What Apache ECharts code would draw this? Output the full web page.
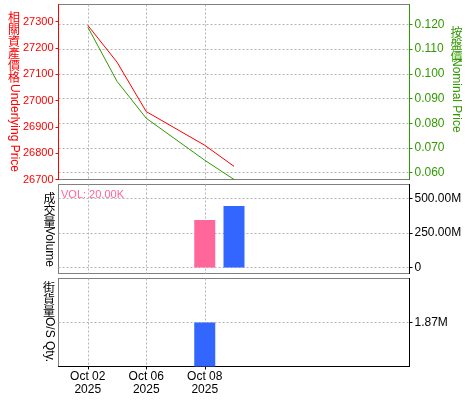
<!DOCTYPE html>
<html><head><meta charset="utf-8">
<script src="https://cdn.jsdelivr.net/npm/echarts@6/dist/echarts.min.js"></script>
<style>html,body{margin:0;padding:0;background:#fff}#c{width:475px;height:400px}</style>
</head><body><div id="c"></div>
<script>
// ---- data ----
const categories = ['', 'Oct 02\n2025', 'Oct 03\n2025', 'Oct 06\n2025', 'Oct 07\n2025', 'Oct 08\n2025', 'Oct 09\n2025', '', '', '', '', '', ''];
const labelledDays = ['Oct 02\n2025', 'Oct 06\n2025', 'Oct 08\n2025'];
const underlyingPrice = [null, 27286, 27146, 26958, null, 26830, 26750, null, null, null, null, null, null];
const nominalPrice = [null, 0.119, 0.097, 0.082, null, 0.065, 0.0572, null, null, null, null, null, null];
const volume = [null, null, null, null, null, 344e6, 446e6, null, null, null, null, null, null];
const volumeKind = [null, null, null, null, null, 'pink', 'blue', null, null, null, null, null, null];
const osQty = [null, null, null, null, null, 1.87e6, null, null, null, null, null, null, null];
const underlyingTicks = [26700, 26800, 26900, 27000, 27100, 27200, 27300];
const nominalTicks = [0.06, 0.07, 0.08, 0.09, 0.10, 0.11, 0.12];
const volumeTicks = [0, 250e6, 500e6];
const osTicks = [1.87e6];
const volText = 'VOL: 20.00K';

// ---- styles ----
const RED = '#ff0000', GREEN = '#339900', PINK = '#ff6699', BLUE = '#3366ff';
const FONT = '"Liberation Sans", Arial, sans-serif';
const CJK = '"Noto Sans CJK TC", "Noto Sans CJK SC", sans-serif';
const gridLine = { show: true, lineStyle: { color: '#b4b4b4', width: 1, type: [2, 2] } };
const showIdx = (i) => labelledDays.indexOf(categories[i]) >= 0;
const fmtM = (v) => v === 0 ? '0' : (v / 1e6).toFixed(2) + 'M';

function xAxis(gi, bottom) {
  return {
    type: 'category', gridIndex: gi, data: categories, boundaryGap: false,
    axisLine: { show: bottom, lineStyle: { color: '#000', width: 1 } },
    axisTick: { show: bottom, length: 3, interval: showIdx, lineStyle: { color: '#000' } },
    axisLabel: { show: bottom, interval: showIdx, color: '#000', fontFamily: FONT, fontSize: 12, lineHeight: 13, margin: 4 },
    splitLine: Object.assign({ interval: showIdx }, gridLine)
  };
}
const grids = [
  { left: 58.5, right: 65.5, top: 4.5, height: 175 },
  { left: 58.5, right: 65.5, top: 184.5, height: 89 },
  { left: 58.5, right: 65.5, top: 278.5, height: 88 }
].map(g => Object.assign(g, { show: true, borderColor: '#000', borderWidth: 1, borderType: [1, 1], backgroundColor: 'transparent', containLabel: false, outerBoundsMode: 'none' }));

function vtitle(x, y, cjk, latin, color, latinStart) {
  const els = cjk.split('').map((ch, i) => ({
    type: 'text', x: x, y: y + i * 12, silent: true,
    style: { text: ch, fill: color, font: '12px ' + CJK, align: 'center', verticalAlign: 'top' }
  }));
  els.push({ type: 'text', x: x, y: latinStart, rotation: -Math.PI / 2, silent: true,
    style: { text: latin, fill: color, font: '12px ' + FONT, align: 'left', verticalAlign: 'middle' } });
  return els;
}

const option = {
  animation: false,
  backgroundColor: '#fff',
  grid: grids,
  xAxis: [xAxis(0, false), xAxis(1, false), xAxis(2, true)],
  yAxis: [
    { type: 'value', gridIndex: 0, position: 'left', min: 26700, max: 27365,
      axisLine: { show: true, lineStyle: { color: RED, width: 1 } },
      axisTick: { show: true, length: 3, customValues: underlyingTicks, lineStyle: { color: RED } },
      axisLabel: { customValues: underlyingTicks, color: RED, fontFamily: FONT, fontSize: 11, margin: 5, formatter: v => String(v) },
      splitLine: { show: false } },
    { type: 'value', gridIndex: 0, position: 'right', min: 0.0572, max: 0.1281,
      axisLine: { show: true, lineStyle: { color: GREEN, width: 1 } },
      axisTick: { show: true, length: 3, customValues: nominalTicks, lineStyle: { color: GREEN } },
      axisLabel: { customValues: nominalTicks, color: GREEN, fontFamily: FONT, fontSize: 12, margin: 5, formatter: v => v.toFixed(3) },
      splitLine: gridLine },
    { type: 'value', gridIndex: 1, position: 'right', min: -43.5e6, max: 601e6,
      axisLine: { show: true, lineStyle: { color: '#000', width: 1 } },
      axisTick: { show: true, length: 3, customValues: volumeTicks, lineStyle: { color: '#000' } },
      axisLabel: { customValues: volumeTicks, color: '#000', fontFamily: FONT, fontSize: 12, margin: 5, formatter: fmtM },
      splitLine: gridLine },
    { type: 'value', gridIndex: 2, position: 'right', min: 0, max: 3.74e6,
      axisLine: { show: true, lineStyle: { color: '#000', width: 1 } },
      axisTick: { show: true, length: 3, customValues: osTicks, lineStyle: { color: '#000' } },
      axisLabel: { customValues: osTicks, color: '#000', fontFamily: FONT, fontSize: 12, margin: 5, formatter: fmtM },
      splitLine: gridLine }
  ],
  series: [
    { type: 'line', xAxisIndex: 0, yAxisIndex: 0, data: underlyingPrice, connectNulls: true, showSymbol: false, symbol: 'none',
      lineStyle: { color: RED, width: 1 }, itemStyle: { color: RED }, z: 3 },
    { type: 'line', xAxisIndex: 0, yAxisIndex: 1, data: nominalPrice, connectNulls: true, showSymbol: false, symbol: 'none',
      lineStyle: { color: GREEN, width: 1 }, itemStyle: { color: GREEN }, z: 2 },
    { type: 'bar', xAxisIndex: 1, yAxisIndex: 2, barWidth: 21,
      data: volume.map((v, i) => v == null ? null : { value: v, itemStyle: { color: volumeKind[i] === 'pink' ? PINK : BLUE } }) },
    { type: 'bar', xAxisIndex: 2, yAxisIndex: 3, barWidth: 21, data: osQty, itemStyle: { color: BLUE } }
  ],
  graphic: [].concat(
    vtitle(14, 11, '相關資產價格', 'Underlying Price', RED, 84),
    vtitle(456.5, 26, '按盤價', 'Nominal Price', GREEN, 58),
    vtitle(49.5, 192, '成交量', 'Volume', '#000', 227),
    vtitle(49, 281, '街貨量', 'O/S Qty.', '#000', 317),
    [{ type: 'text', x: 61, y: 189.5, silent: true, style: { text: volText, fill: PINK, font: '11px ' + FONT, align: 'left', verticalAlign: 'top' } }]
  )
};
const chart = echarts.init(document.getElementById('c'), null, { renderer: 'canvas' });
chart.setOption(option);
</script>
</body></html>
